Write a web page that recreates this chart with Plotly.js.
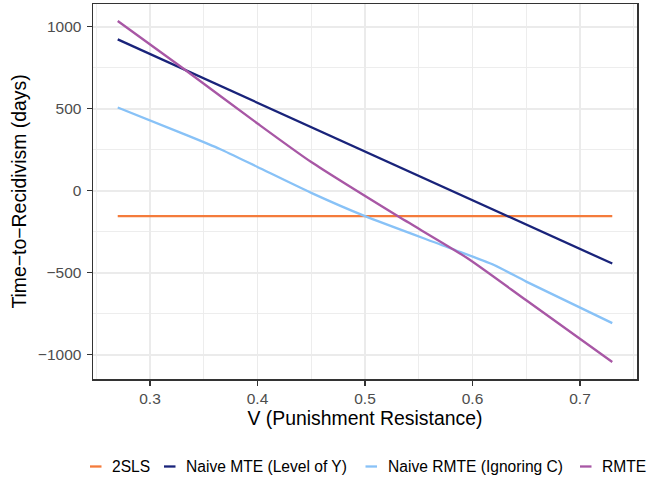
<!DOCTYPE html>
<html>
<head>
<meta charset="utf-8">
<script src="https://cdn.plot.ly/plotly-3.0.1.min.js"></script>
<style>html,body{margin:0;padding:0;background:#fff;}#chart{width:648px;height:481px;}</style>
</head>
<body>
<div id="chart"></div>
<script>
// ---- data ----
var seriesNames = ["2SLS", "Naive MTE (Level of Y)", "Naive RMTE (Ignoring C)", "RMTE"];
var seriesColors = ["#F47B3B", "#19237A", "#88C2F7", "#A857A5"];
var seriesShapes = ["linear", "linear", "spline", "spline"];

var x2sls = [0.27, 0.73];
var y2sls = [-155, -155];

var xNaiveMTE = [0.27, 0.73];
var yNaiveMTE = [923, -444];

var xNaiveRMTE = [0.27, 0.33, 0.365, 0.40, 0.45, 0.50, 0.58, 0.62, 0.65, 0.73];
var yNaiveRMTE = [508, 350, 255, 145, -13, -155, -352, -453, -554, -807];

var xRMTE = [0.27, 0.33, 0.40, 0.45, 0.53, 0.595, 0.65, 0.73];
var yRMTE = [1035, 750, 410, 175, -153, -410, -668, -1044];

var xTickVals = [0.3, 0.4, 0.5, 0.6, 0.7];
var xTickText = ["0.3", "0.4", "0.5", "0.6", "0.7"];
var yTickVals = [-1000, -500, 0, 500, 1000];
var yTickText = ["\u22121000", "\u2212500", "0", "500", "1000"];

var xTitle = "V (Punishment Resistance)";
var yTitle = "Time\u2212to\u2212Recidivism (days)";

// ---- build ----
var xs = [x2sls, xNaiveMTE, xNaiveRMTE, xRMTE];
var ys = [y2sls, yNaiveMTE, yNaiveRMTE, yRMTE];
var traces = [];
for (var i = 0; i < seriesNames.length; i++) {
  traces.push({
    type: "scatter", mode: "lines", name: seriesNames[i],
    x: xs[i], y: ys[i],
    line: {color: seriesColors[i], width: 2.3, shape: seriesShapes[i], smoothing: 0.6},
    showlegend: false, hoverinfo: "skip"
  });
}

var FONT = "Liberation Sans, Arial, Helvetica, sans-serif";
var L = 93, R = 11, T = 4, B = 102;
var W = 648, H = 481;
var pw = W - L - R, ph = H - T - B;

// manual ggplot-style legend (paper coordinates from pixel layout)
var legendSegX = [90, 164, 365.5, 580];
var legendY = 466.5;
var shapes = [], annotations = [];
function px2paperX(p) { return (p - L) / pw; }
function px2paperY(p) { return (H - B - p) / ph; }
for (var j = 0; j < seriesNames.length; j++) {
  shapes.push({
    type: "line", xref: "paper", yref: "paper",
    x0: px2paperX(legendSegX[j]), x1: px2paperX(legendSegX[j] + 11.5),
    y0: px2paperY(legendY), y1: px2paperY(legendY),
    line: {color: seriesColors[j], width: 2.3}
  });
  annotations.push({
    xref: "paper", yref: "paper",
    x: px2paperX(legendSegX[j] + 20), y: px2paperY(legendY),
    xanchor: "left", yanchor: "middle", showarrow: false,
    text: seriesNames[j], font: {family: FONT, size: 15.6, color: "#000000"}
  });
}

var layout = {
  width: W, height: H,
  margin: {l: L, r: R, t: T, b: B, pad: 0},
  paper_bgcolor: "#ffffff", plot_bgcolor: "#ffffff",
  font: {family: FONT},
  showlegend: false,
  xaxis: {
    range: [0.247, 0.753], autorange: false,
    tickvals: xTickVals, ticktext: xTickText,
    ticks: "outside", ticklen: 5, tickwidth: 1.2, tickcolor: "#333333",
    tickfont: {family: FONT, size: 15.5, color: "#4D4D4D"},
    showgrid: true, gridcolor: "#EBEBEB", gridwidth: 1.8,
    minor: {dtick: 0.05, tick0: 0.25, showgrid: true, gridcolor: "#EBEBEB", gridwidth: 0.9, ticks: ""},
    zeroline: false, showline: true, linecolor: "#333333", linewidth: 1.5, mirror: true,
    title: {text: xTitle, font: {family: FONT, size: 19.4, color: "#000000"}, standoff: 4},
    automargin: false
  },
  yaxis: {
    range: [-1148, 1139], autorange: false,
    tickvals: yTickVals, ticktext: yTickText,
    ticks: "outside", ticklen: 5, tickwidth: 1.2, tickcolor: "#333333",
    ticklabelstandoff: 2,
    tickfont: {family: FONT, size: 15.5, color: "#4D4D4D"},
    showgrid: true, gridcolor: "#EBEBEB", gridwidth: 1.8,
    minor: {dtick: 250, tick0: -1250, showgrid: true, gridcolor: "#EBEBEB", gridwidth: 0.9, ticks: ""},
    zeroline: false, showline: true, linecolor: "#333333", linewidth: 1.5, mirror: true,
    title: {text: yTitle, font: {family: FONT, size: 19.4, color: "#000000"}, standoff: 6},
    automargin: false
  },
  shapes: shapes,
  annotations: annotations
};

Plotly.newPlot("chart", traces, layout, {staticPlot: true, displayModeBar: false});
</script>
</body>
</html>
